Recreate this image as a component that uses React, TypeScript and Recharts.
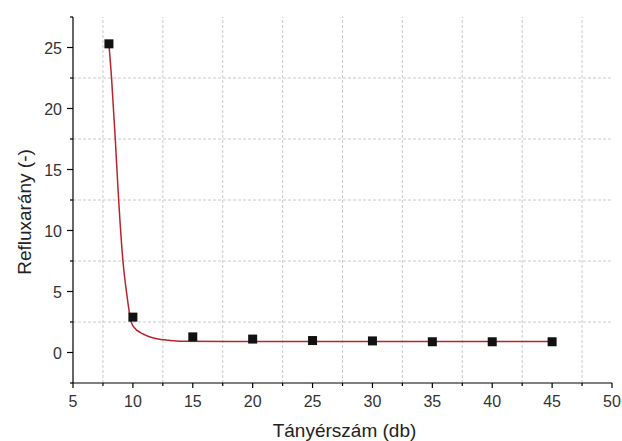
import { ComposedChart, Line, Scatter, XAxis, YAxis, ReferenceLine, Label } from "recharts";

// measured points: plate count vs. reflux ratio
const plateCounts = [8, 10, 15, 20, 25, 30, 35, 40, 45];
const refluxRatios = [25.3, 2.9, 1.28, 1.1, 0.98, 0.95, 0.88, 0.88, 0.88];

// fitted decay curve, sampled along its drawn path
const fitPlates = [8, 8.22, 8.53, 8.77, 9.17, 9.5, 9.86, 10.2, 10.6, 11, 11.5, 12, 13, 14, 20, 30, 45];
const fitRatios = [25.3, 22.5, 17.5, 13.2, 7.5, 4.7, 2.5, 1.95, 1.65, 1.45, 1.25, 1.12, 1.0, 0.93, 0.9, 0.9, 0.9];

const xTicks = [5, 7.5, 10, 12.5, 15, 17.5, 20, 22.5, 25, 27.5, 30, 32.5, 35, 37.5, 40, 42.5, 45, 47.5, 50];
const yTicks = [-2.5, 0, 2.5, 5, 7.5, 10, 12.5, 15, 17.5, 20, 22.5, 25, 27.5];
const xGrid = [7.5, 12.5, 17.5, 22.5, 27.5, 32.5, 37.5, 42.5, 47.5];
const yGrid = [2.5, 7.5, 12.5, 17.5, 22.5];

const measured = plateCounts.map((x, i) => ({ x, y: refluxRatios[i] }));
const fitted = fitPlates.map((x, i) => ({ x, y: fitRatios[i] }));

const FONT = "'Liberation Sans', Arial, sans-serif";
const GRID = "#cacaca";

function XTick(props: any) {
  const { x, y, payload } = props;
  const major = payload.value % 5 === 0;
  return (
    <g>
      <line x1={x} x2={x} y1={y} y2={y + (major ? 5 : 3)} stroke="#000" strokeWidth={1.2} />
      {major && (
        <text x={x} y={y + 24} textAnchor="middle" fontFamily={FONT} fontSize={16} fill="#333">
          {payload.value}
        </text>
      )}
    </g>
  );
}

function YTick(props: any) {
  const { x, y, payload } = props;
  const major = payload.value % 5 === 0;
  return (
    <g>
      <line x1={x} x2={x - (major ? 6 : 3)} y1={y} y2={y} stroke="#000" strokeWidth={1.2} />
      {major && (
        <text x={x - 11} y={y + 6} textAnchor="end" fontFamily={FONT} fontSize={16} fill="#333">
          {payload.value}
        </text>
      )}
    </g>
  );
}

function SquareDot(props: any) {
  const { cx, cy } = props;
  return <rect x={cx - 4.5} y={cy - 4.5} width={9} height={9} fill="#111" />;
}

export default function App() {
  return (
    <div style={{ position: "absolute", left: 0, top: 0, background: "#fff" }}>
      <ComposedChart width={622} height={441} margin={{ top: 17, right: 10, left: 0, bottom: 0 }}>
        {xGrid.map((v) => (
          <ReferenceLine key={`gx${v}`} x={v} stroke={GRID} strokeDasharray="3 2" />
        ))}
        {yGrid.map((v) => (
          <ReferenceLine key={`gy${v}`} y={v} stroke={GRID} strokeDasharray="3 2" />
        ))}
        <XAxis
          type="number"
          dataKey="x"
          domain={[5, 50]}
          ticks={xTicks}
          interval={0}
          height={58}
          tickSize={0}
          tickMargin={0}
          tick={<XTick />}
          axisLine={{ stroke: "#000", strokeWidth: 1.2 }}
          tickLine={false}
        >
          <Label
            content={({ viewBox }: any) => (
              <text
                x={viewBox.x + viewBox.width / 2 + 2}
                y={437}
                textAnchor="middle"
                fontFamily={FONT}
                fontSize={19}
                fill="#222"
              >
                Tányérszám (db)
              </text>
            )}
          />
        </XAxis>
        <YAxis
          type="number"
          dataKey="y"
          domain={[-2.5, 27.5]}
          ticks={yTicks}
          interval={0}
          width={73}
          tickSize={0}
          tickMargin={0}
          tick={<YTick />}
          axisLine={{ stroke: "#000", strokeWidth: 1.2 }}
          tickLine={false}
        >
          <Label
            content={({ viewBox }: any) => (
              <text
                transform={`translate(24, ${viewBox.y + viewBox.height / 2 + 12}) rotate(-90)`}
                textAnchor="middle"
                dominantBaseline="central"
                fontFamily={FONT}
                fontSize={19}
                fill="#222"
              >
                Refluxarány (-)
              </text>
            )}
          />
        </YAxis>
        <Line
          data={fitted}
          dataKey="y"
          type="monotone"
          stroke="#b8232e"
          strokeWidth={1.5}
          dot={false}
          activeDot={false}
          isAnimationActive={false}
        />
        <Scatter data={measured} dataKey="y" shape={<SquareDot />} isAnimationActive={false} />
      </ComposedChart>
    </div>
  );
}
